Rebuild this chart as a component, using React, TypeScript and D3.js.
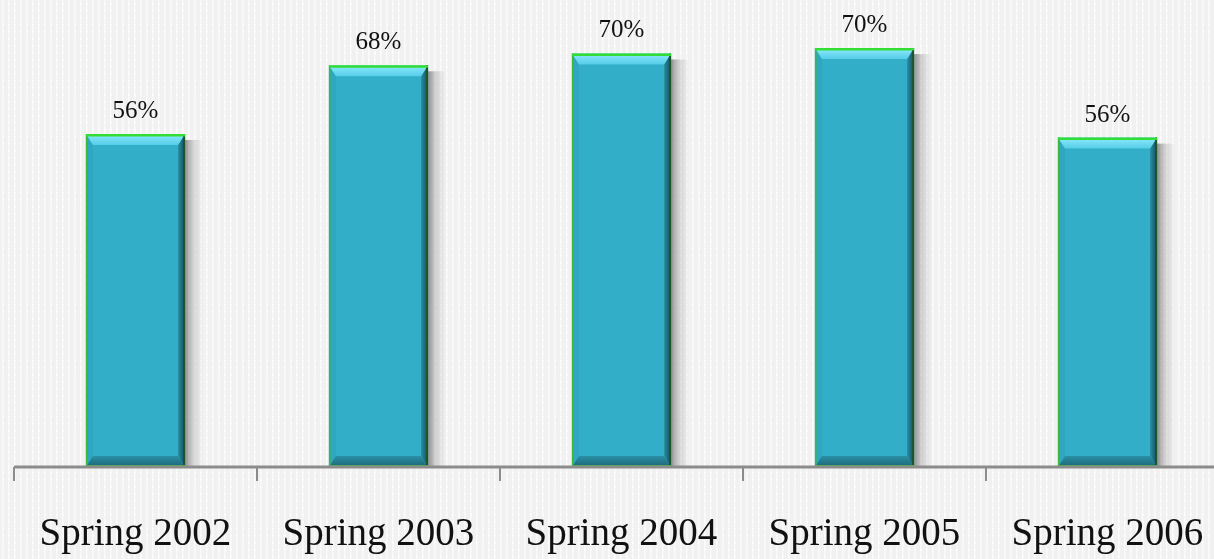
import React from "react";
import * as d3 from "d3";

const categories = ["Spring 2002", "Spring 2003", "Spring 2004", "Spring 2005", "Spring 2006"];
const values = [56.2, 67.8, 69.8, 70.7, 55.6];
const labels = ["56%", "68%", "70%", "70%", "56%"];

const W = 1214;
const H = 559;

export default function App() {
  const x = d3
    .scaleBand<string>()
    .domain(categories)
    .range([14, 1229])
    .paddingInner(0.592)
    .paddingOuter(0.296);
  const y = d3.scaleLinear().domain([0, 80]).range([467, -7]);
  const bw = x.bandwidth();
  const step = x.step();
  const font = "'Liberation Serif', 'Times New Roman', serif";

  return (
    <div style={{ position: "fixed", left: 0, top: 0, width: W, height: H }}>
      <svg width={W} height={H} style={{ display: "block" }}>
        <defs>
          <pattern id="bg" width="6" height="7" patternUnits="userSpaceOnUse">
            <rect width="6" height="7" fill="#f1f1f1" />
            <rect x="2" y="0" width="1.6" height="7" fill="#f9f9f9" />
            <rect x="2" y="3" width="1.6" height="1.4" fill="#ffffff" />
          </pattern>
          <linearGradient id="shadow" x1="0" x2="1" y1="0" y2="0">
            <stop offset="0" stopColor="#000" stopOpacity="0.4" />
            <stop offset="0.4" stopColor="#000" stopOpacity="0.15" />
            <stop offset="1" stopColor="#000" stopOpacity="0" />
          </linearGradient>
          <linearGradient id="rightBevel" x1="0" x2="1" y1="0" y2="0">
            <stop offset="0" stopColor="#2a8ea4" />
            <stop offset="1" stopColor="#134c57" />
          </linearGradient>
          <linearGradient id="topBevel" x1="0" x2="0" y1="0" y2="1">
            <stop offset="0" stopColor="#8eeafc" />
            <stop offset="1" stopColor="#55cde8" />
          </linearGradient>
          <linearGradient id="bottomBevel" x1="0" x2="0" y1="0" y2="1">
            <stop offset="0" stopColor="#2b90a6" />
            <stop offset="1" stopColor="#1c6676" />
          </linearGradient>
        </defs>
        <rect width={W} height={H} fill="url(#bg)" />

        {categories.map((c, i) => {
          const x0 = x(c) as number;
          const top = y(values[i]);
          const bot = y(0);
          const bv = 11;
          const sv = 7;
          return (
            <g key={c}>
              <rect x={x0 + bw} y={top + 6} width={18} height={bot - top - 6} fill="url(#shadow)" />
              <rect x={x0} y={top} width={bw} height={bot - top} fill="#33aec8" />
              <polygon
                points={`${x0},${top} ${x0 + sv},${top + bv} ${x0 + sv},${bot - bv} ${x0},${bot}`}
                fill="#30a7c0"
              />
              <polygon
                points={`${x0 + bw},${top} ${x0 + bw - sv},${top + bv} ${x0 + bw - sv},${bot - bv} ${x0 + bw},${bot}`}
                fill="url(#rightBevel)"
              />
              <polygon
                points={`${x0},${top} ${x0 + bw},${top} ${x0 + bw - sv},${top + bv} ${x0 + sv},${top + bv}`}
                fill="url(#topBevel)"
              />
              <polygon
                points={`${x0},${bot} ${x0 + bw},${bot} ${x0 + bw - sv},${bot - bv} ${x0 + sv},${bot - bv}`}
                fill="url(#bottomBevel)"
              />
              <line x1={x0 + 0.75} x2={x0 + 0.75} y1={top} y2={bot} stroke="#3cb83c" strokeWidth={1.5} />
              <line x1={x0 + bw - 1} x2={x0 + bw - 1} y1={top} y2={bot} stroke="#1d5528" strokeWidth={2} />
              <line x1={x0} x2={x0 + bw} y1={top + 1.2} y2={top + 1.2} stroke="#33dd33" strokeWidth={2.5} />
              <line x1={x0} x2={x0 + bw} y1={bot - 1} y2={bot - 1} stroke="#3cb83c" strokeWidth={2} />
              <text
                x={x0 + bw / 2}
                y={top - 16}
                textAnchor="middle"
                fontFamily={font}
                fontSize={25}
                fill="#111"
              >
                {labels[i]}
              </text>
            </g>
          );
        })}

        <line x1={14} x2={W} y1={467} y2={467} stroke="#8c8c8c" strokeWidth={3} />
        {categories.map((c, i) => {
          const tx = 14 + i * step;
          return <line key={"t" + c} x1={tx} x2={tx} y1={467} y2={481} stroke="#8c8c8c" strokeWidth={2} />;
        })}
        {categories.map((c) => (
          <text
            key={"l" + c}
            x={(x(c) as number) + bw / 2}
            y={545}
            textAnchor="middle"
            fontFamily={font}
            fontSize={39}
            fill="#111"
          >
            {c}
          </text>
        ))}
      </svg>
    </div>
  );
}
